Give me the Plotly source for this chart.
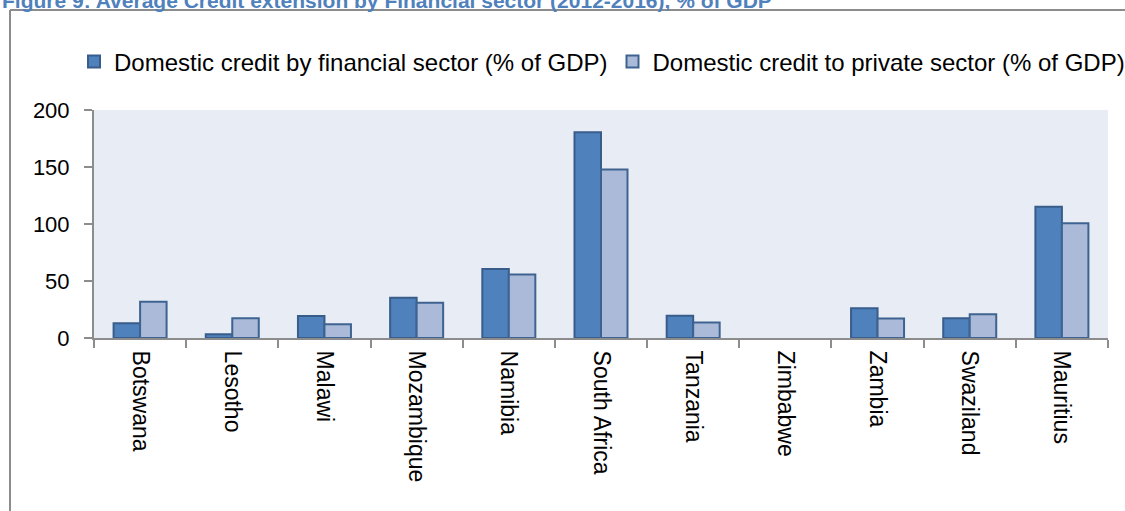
import plotly.graph_objects as go

countries = ["Botswana", "Lesotho", "Malawi", "Mozambique", "Namibia", "South Africa",
             "Tanzania", "Zimbabwe", "Zambia", "Swaziland", "Mauritius"]
financial_sector = [12.9, 3.2, 19.3, 35.4, 60.5, 180.4, 19.6, None, 26.0, 17.3, 115.2]
private_sector = [31.9, 17.3, 12.0, 31.0, 55.8, 147.7, 13.7, None, 17.0, 20.8, 100.6]
series_names = ["Domestic credit by financial sector (% of GDP)",
                "Domestic credit to private sector (% of GDP)"]
title_text = "Figure 9: Average Credit extension by Financial sector (2012-2016), % of GDP"
y_ticks = [0, 50, 100, 150, 200]

W, H = 1125, 511
L, R, T, B = 94, 17, 110, 173
pw, ph = W - L - R, H - T - B

def px_x(x):
    return (x - L) / pw

def px_y(y):
    return (H - B - y) / ph

FONT = "Liberation Sans"

fig = go.Figure()
fig.add_trace(go.Bar(x=countries, y=financial_sector, name=series_names[0],
                     marker=dict(color="#4F81BD", line=dict(color="#385D8A", width=2))))
fig.add_trace(go.Bar(x=countries, y=private_sector, name=series_names[1],
                     marker=dict(color="#AABAD8", line=dict(color="#3F6391", width=2))))

fig.update_layout(
    width=W, height=H,
    margin=dict(l=L, r=R, t=T, b=B, autoexpand=False),
    paper_bgcolor="white",
    plot_bgcolor="#E8ECF4",
    barmode="group", bargap=0.425, bargroupgap=0,
    font=dict(family=FONT, color="black"),
    showlegend=True,
    legend=dict(orientation="h", x=px_x(74), xanchor="left", y=px_y(62), yanchor="middle",
                font=dict(size=24, family=FONT), bgcolor="rgba(0,0,0,0)",
                traceorder="normal"),
)

fig.update_xaxes(
    showline=True, linecolor="#8C8C8C", linewidth=2,
    ticks="outside", tickson="boundaries", ticklen=8, tickcolor="#8C8C8C", tickwidth=2,
    tickangle=90, tickfont=dict(size=23, family=FONT), ticklabelstandoff=6,
    showgrid=False, zeroline=False,
)
fig.update_yaxes(
    range=[0, 200], tickvals=y_ticks,
    showline=True, linecolor="#8C8C8C", linewidth=2,
    ticks="outside", ticklen=8, tickcolor="#8C8C8C", tickwidth=2,
    tickfont=dict(size=22, family=FONT), ticklabelstandoff=10,
    showgrid=False, zeroline=False,
)

# outer frame (top and left edges)
fig.add_shape(type="line", xref="paper", yref="paper",
              x0=px_x(10), x1=px_x(1135), y0=px_y(10), y1=px_y(10),
              line=dict(color="#8C8C8C", width=2))
fig.add_shape(type="line", xref="paper", yref="paper",
              x0=px_x(10), x1=px_x(10), y0=px_y(10), y1=px_y(530),
              line=dict(color="#8C8C8C", width=2))

fig.add_annotation(text="<b>" + title_text + "</b>", xref="paper", yref="paper",
                   x=px_x(0), xanchor="left", y=px_y(0), yanchor="middle",
                   showarrow=False, font=dict(size=21, family=FONT, color="#4F81BD"))

fig.write_html("out.html", config={"displayModeBar": False},
               post_script="document.body.style.margin='0';document.body.style.overflow='hidden';")
